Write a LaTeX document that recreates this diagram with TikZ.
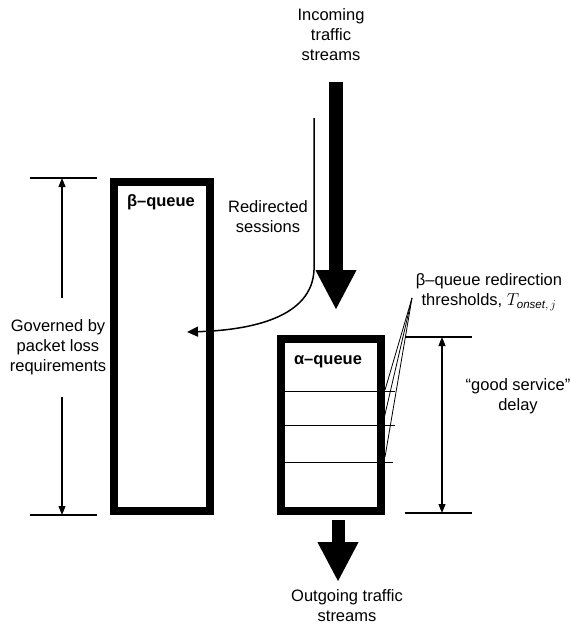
\documentclass[tikz,border=0pt]{standalone}
\usepackage{fontspec}
\setmainfont{Liberation Sans}
\usetikzlibrary{arrows.meta}
\begin{document}
\begin{tikzpicture}[x=1pt,y=-1pt,
  txt/.style={font=\fontsize{16.5}{20}\selectfont, align=center, inner sep=0pt},
  lbl/.style={font=\fontsize{16.5}{20}\selectfont\bfseries, inner sep=0pt},
  queue/.style={draw, line width=8pt, inner sep=0pt},
  thinline/.style={line width=1pt},
  dim/.style={line width=1.1pt},
  big/.style={line width=14pt, -{Triangle[length=40pt,width=38pt]}},
]
\useasboundingbox (0,0) rectangle (571,624);

% queues
\node[queue, minimum width=96pt, minimum height=329pt] (beta) at (162,346.5) {};
\node[queue, minimum width=100pt, minimum height=172pt] (alpha) at (331,425) {};
\node[lbl] (betalbl) at (161,202) {β--queue};
\node[lbl] (alphalbl) at (328,362) {α--queue};

% threshold lines in alpha queue
\draw[thinline] (285,391) -- (395,391);
\draw[thinline] (285,425) -- (395,425);
\draw[thinline] (285,462) -- (393,462);

% threshold label and pointers
\node[txt] (thr) at (489,292) {β--queue redirection\\thresholds, $T_{\mathit{onset},\,j}$};
\coordinate (tp) at (412,298);
\coordinate (t1) at (385,390);
\coordinate (t2) at (383,423);
\coordinate (t3) at (385,457);
\draw[line width=0.8pt] (tp) -- (t1);
\draw[line width=0.8pt] (tp) -- (t2);
\draw[line width=0.8pt] (tp) -- (t3);

% good service dimension
\coordinate (gsTL) at (405,337);
\coordinate (gsTR) at (472,337);
\coordinate (gsBL) at (405,513);
\coordinate (gsBR) at (472,513);
\draw[dim] (gsTL) -- (gsTR);
\draw[dim] (gsBL) -- (gsBR);
\coordinate (gsT) at (442,337);
\coordinate (gsB) at (442,513);
\draw[dim, {Triangle[length=9pt,width=7pt]}-{Triangle[length=9pt,width=7pt]}] (gsT) -- (gsB);
\node[txt] (gs) at (518,396) {“good service”\\delay};

% left dimension
\coordinate (lTL) at (30,178);
\coordinate (lTR) at (97,178);
\coordinate (lBL) at (30,515);
\coordinate (lBR) at (97,515);
\draw[dim] (lTL) -- (lTR);
\draw[dim] (lBL) -- (lBR);
\node[txt] (gov) at (58,347) {Governed by\\packet loss\\requirements};
\coordinate (g1) at (62,298);
\coordinate (g1e) at (62,178);
\coordinate (g2) at (62,397);
\coordinate (g2e) at (62,515);
\draw[dim, -{Triangle[length=9pt,width=7pt]}] (g1) -- (g1e);
\draw[dim, -{Triangle[length=9pt,width=7pt]}] (g2) -- (g2e);

% incoming traffic
\node[txt] (in) at (331,35) {Incoming\\traffic\\streams};
\coordinate (inTop) at (336,82);
\coordinate (inTip) at (336,310);
\draw[big] (inTop) -- (inTip);

% redirected sessions
\node[txt] (rd) at (268,217) {Redirected\\sessions};
\coordinate (rdTop) at (314,118);
\coordinate (rdMid) at (314,270);
\coordinate (rdTip) at (187,332);
\draw[line width=1.5pt, -{Triangle[length=11pt,width=10pt]}] (rdTop) -- (rdMid) .. controls (312,316) and (255,330) .. (rdTip);

% outgoing traffic
\coordinate (outTop) at (338,520);
\coordinate (outTip) at (338,582);
\draw[big, line width=13pt] (outTop) -- (outTip);
\node[txt] (out) at (347,606) {Outgoing traffic\\streams};
\end{tikzpicture}
\end{document}
